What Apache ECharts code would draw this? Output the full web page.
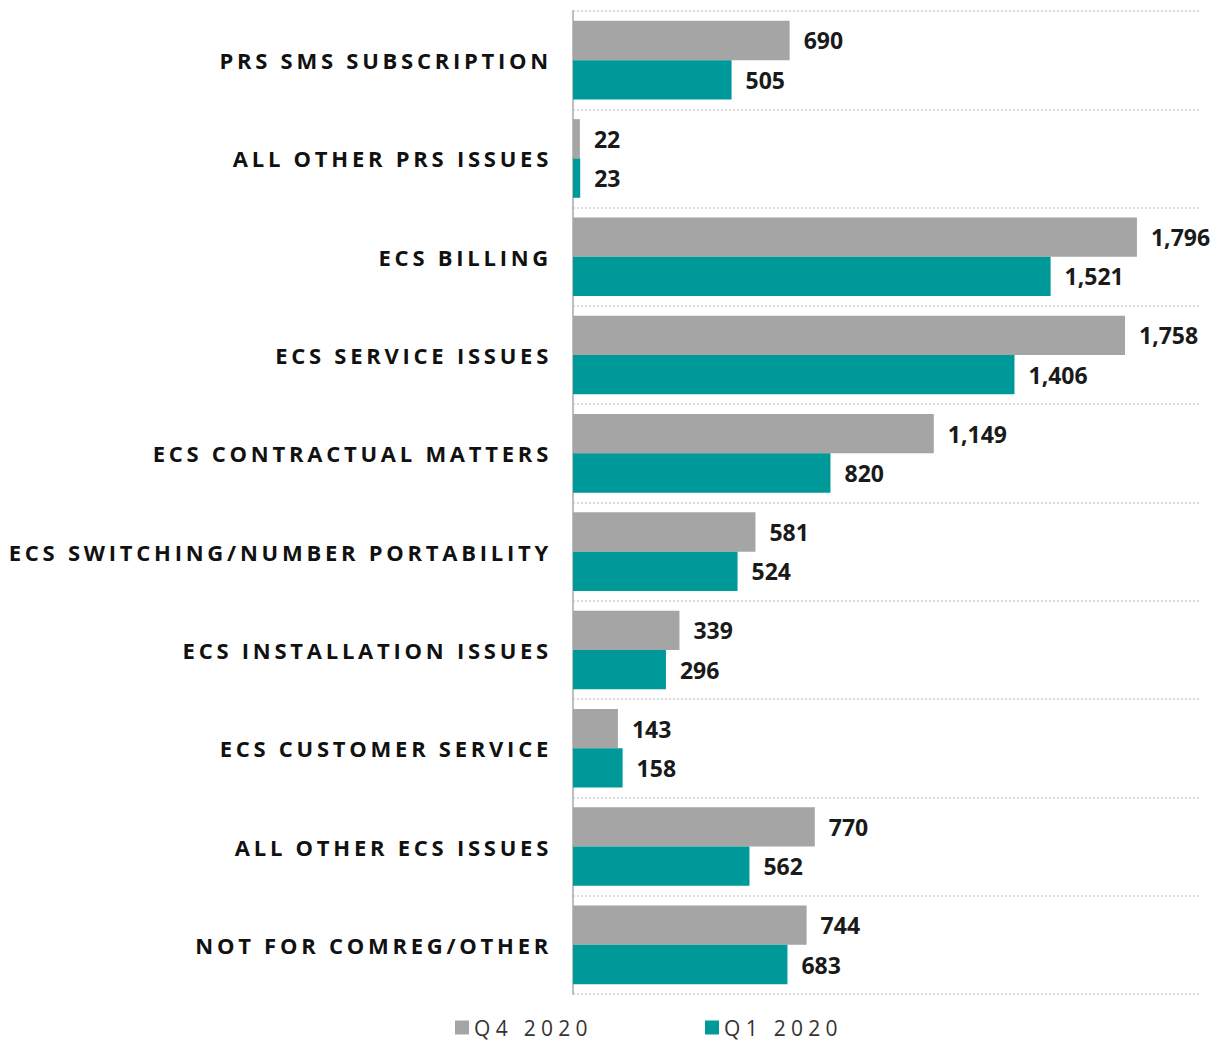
<!DOCTYPE html>
<html>
<head>
<meta charset="utf-8">
<script src="https://cdn.jsdelivr.net/npm/echarts@6/dist/echarts.min.js"></script>
<style>
html,body{margin:0;padding:0;background:#fff;}
#chart{width:1225px;height:1043px;}
</style>
</head>
<body>
<div id="chart"></div>
<script>
const categories = [
  "PRS SMS SUBSCRIPTION",
  "ALL OTHER PRS ISSUES",
  "ECS BILLING",
  "ECS SERVICE ISSUES",
  "ECS CONTRACTUAL MATTERS",
  "ECS SWITCHING/NUMBER PORTABILITY",
  "ECS INSTALLATION ISSUES",
  "ECS CUSTOMER SERVICE",
  "ALL OTHER ECS ISSUES",
  "NOT FOR COMREG/OTHER"
];
const seriesNames = ["Q4 2020", "Q1 2020"];
const q4_2020 = [690, 22, 1796, 1758, 1149, 581, 339, 143, 770, 744];
const q1_2020 = [505, 23, 1521, 1406, 820, 524, 296, 158, 562, 683];

const GRAY = '#a5a5a5';
const TEAL = '#009999';
const FONT = "'Open Sans', 'Noto Sans', sans-serif";

const chart = echarts.init(document.getElementById('chart'), null, {renderer: 'svg'});

const valueLabel = {
  show: true,
  position: 'right',
  distance: 14,
  fontFamily: FONT,
  fontWeight: 'bold',
  fontSize: 23,
  color: '#1a1a1a',
  formatter: p => Number(p.value).toLocaleString('en-US')
};

const legendText = {fontFamily: FONT, fontSize: 21, color: '#333'};

chart.setOption({
  animation: false,
  backgroundColor: '#ffffff',
  grid: {left: 573, right: 24, top: 11, bottom: 49, containLabel: false},
  legend: [
    {
      data: [seriesNames[0]], left: 455, top: 1017, padding: 0,
      itemWidth: 14, itemHeight: 14, itemGap: 5, icon: 'rect',
      textStyle: legendText
    },
    {
      data: [seriesNames[1]], left: 705, top: 1017, padding: 0,
      itemWidth: 14, itemHeight: 14, itemGap: 5, icon: 'rect',
      textStyle: legendText
    }
  ],
  xAxis: {
    type: 'value', min: 0, max: 2000,
    axisLine: {show: false}, axisTick: {show: false}, axisLabel: {show: false},
    splitLine: {show: false}
  },
  yAxis: {
    type: 'category',
    data: categories,
    inverse: true,
    axisLine: {show: true, lineStyle: {color: '#bfbfbf', width: 2}},
    axisTick: {show: false},
    axisLabel: {
      margin: 21,
      fontFamily: FONT, fontWeight: 'bold', fontSize: 22, color: '#111'
    },
    splitLine: {show: true, lineStyle: {color: '#d9d9d9', width: 2, type: 'dotted'}}
  },
  series: [
    {
      name: seriesNames[0], type: 'bar', data: q4_2020,
      itemStyle: {color: GRAY},
      barGap: '0%', barCategoryGap: '20%',
      label: valueLabel
    },
    {
      name: seriesNames[1], type: 'bar', data: q1_2020,
      itemStyle: {color: TEAL},
      barGap: '0%', barCategoryGap: '20%',
      label: valueLabel
    }
  ]
});

function applySpacing() {
  const texts = document.querySelectorAll('#chart text');
  texts.forEach(t => {
    const s = t.textContent;
    if (categories.indexOf(s) >= 0) t.style.letterSpacing = '3.75px';
    else if (seriesNames.indexOf(s) >= 0) t.style.letterSpacing = '5.3px';
  });
}
chart.on('finished', applySpacing);
applySpacing();
setTimeout(applySpacing, 50);
</script>
</body>
</html>
